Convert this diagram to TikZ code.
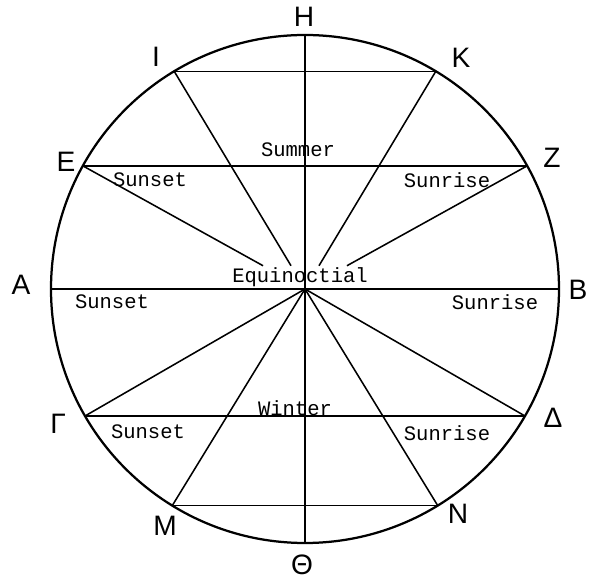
\documentclass[tikz,border=0pt]{standalone}
\usepackage{fontspec}
\setmainfont{Liberation Sans}
\setmonofont{Liberation Mono}
\usepackage{tikz}

\tikzset{
  letter/.style={text centered, font=\fontsize{20}{20}\selectfont},
  season/.style={text centered, font=\ttfamily\fontsize{14.6}{14.6}\selectfont},
  rim/.style={line width=1.6pt},
  chord/.style={line width=1.1pt}
}

\begin{document}
\begin{tikzpicture}
    \useasboundingbox (-7.625,-7.275) rectangle (7.15,7.225);

    \coordinate (O) at (0,0);
    \coordinate (A) at (180:6.35);
    \coordinate (B) at (0:6.35);
    \coordinate (H) at (90:6.35);
    \coordinate (T) at (270:6.35);
    \coordinate (I) at (121:6.35);
    \coordinate (K) at (59:6.35);
    \coordinate (E) at (151:6.35);
    \coordinate (Z) at (29:6.35);
    \coordinate (G) at (210:6.35);
    \coordinate (D) at (330:6.35);
    \coordinate (M) at (238.5:6.35);
    \coordinate (N) at (301.5:6.35);

    \draw[rim] (O) circle (6.35);

    \node[season, inner sep=1pt] (eq) at (-0.125, 0.3) {Equinoctial};
    \node[season] (summer) at (-0.175, 3.475) {Summer};
    \node[season] (winter) at (-0.25, -2.975) {Winter};
    \node[season] (setE) at (-3.875, 2.725) {Sunset};
    \node[season] (riseZ) at (3.55, 2.725) {Sunrise};
    \node[season] (setA) at (-4.825, -0.325) {Sunset};
    \node[season] (riseB) at (4.75, -0.325) {Sunrise};
    \node[season] (setG) at (-3.925, -3.575) {Sunset};
    \node[season] (riseD) at (3.55, -3.6) {Sunrise};

    % diameters and chords
    \draw[chord] (A) -- (B);
    \draw[chord] (H) -- (T);
    \draw[chord] (I) -- (K);
    \draw[chord] (E) -- (Z);
    \draw[chord] (G) -- (D);
    \draw[chord] (M) -- (N);

    % upper radii stop under the label
    \draw[chord] (I) -- (intersection of I--O and eq.north west--eq.north east);
    \draw[chord] (E) -- (intersection of E--O and eq.north west--eq.north east);
    \draw[chord] (K) -- (intersection of K--O and eq.north west--eq.north east);
    \draw[chord] (Z) -- (intersection of Z--O and eq.north west--eq.north east);

    % lower radii
    \draw[chord] (G) -- (O);
    \draw[chord] (M) -- (O);
    \draw[chord] (D) -- (O);
    \draw[chord] (N) -- (O);

    \node[letter] (lH) at (-0.025, 6.8) {H};
    \node[letter] (lI) at (-3.725, 5.8) {I};
    \node[letter] (lK) at (3.9, 5.775) {K};
    \node[letter] (lE) at (-5.975, 3.175) {E};
    \node[letter] (lZ) at (6.175, 3.275) {Z};
    \node[letter] (lA) at (-7.1, 0.1) {A};
    \node[letter] (lB) at (6.825, -0.025) {B};
    \node[letter] (lG) at (-6.175, -3.375) {Γ};
    \node[letter] (lD) at (6.2, -3.225) {Δ};
    \node[letter] (lM) at (-3.5, -5.925) {M};
    \node[letter] (lN) at (3.825, -5.625) {N};
    \node[letter] (lT) at (-0.075, -6.9) {Θ};
\end{tikzpicture}
\end{document}
